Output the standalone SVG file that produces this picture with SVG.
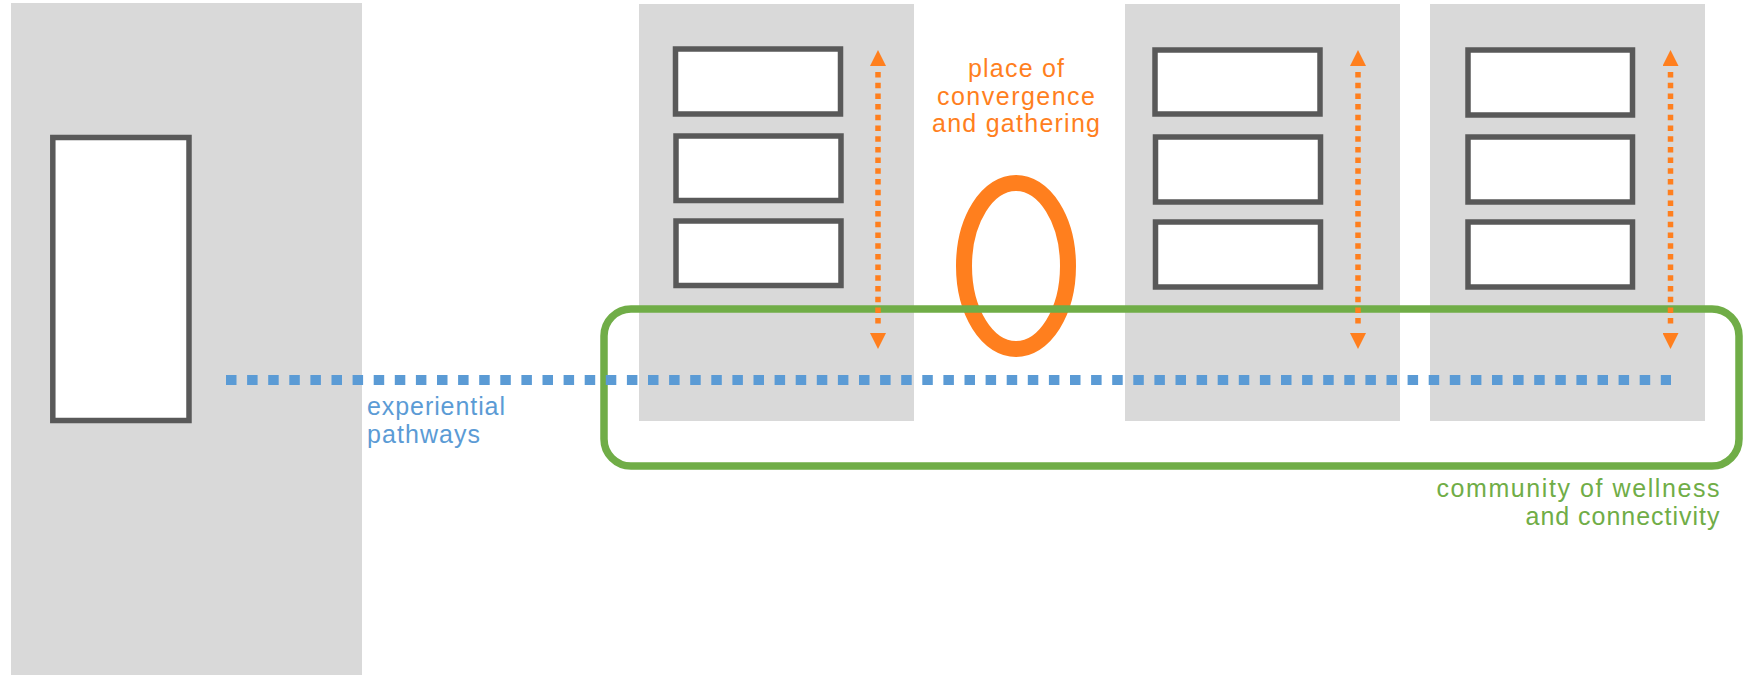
<svg xmlns="http://www.w3.org/2000/svg" width="1752" height="675" viewBox="0 0 1752 675">
  <style>
    .panel { fill: #D9D9D9; stroke: none; }
    .box { fill: #FFFFFF; stroke: #595959; stroke-width: 5.5; }
    .lbl { font-family: "Liberation Sans", Arial, Helvetica, sans-serif; font-size: 25px; }
    .orange-t { fill: #FF7F1E; }
    .blue-t { fill: #5B9BD5; }
    .green-t { fill: #70AD47; }
    .varrow { stroke: #FF7F1E; stroke-width: 5.5; stroke-dasharray: 5.5 5.2; fill: none; marker-start: url(#ah); marker-end: url(#ah); }
    .path-blue { stroke: #5B9BD5; stroke-width: 10; stroke-dasharray: 10.5 10.6; fill: none; }
  </style>
  <defs>
    <marker id="ah" markerUnits="userSpaceOnUse" viewBox="0 0 22 16" markerWidth="22" markerHeight="16" refX="0" refY="8" orient="auto-start-reverse">
      <path d="M6,0 L22,8 L6,16 Z" fill="#FF7F1E"/>
    </marker>
  </defs>

  <rect width="1752" height="675" fill="#FFFFFF"/>

  <g id="building-left">
    <rect class="panel" x="11" y="3" width="351" height="672"/>
    <rect class="box" x="52.8" y="137.5" width="136.2" height="283"/>
  </g>

  <g id="building-2">
    <rect class="panel" x="639" y="4" width="275" height="417"/>
    <rect class="box" x="675.5" y="49" width="165" height="65"/>
    <rect class="box" x="676" y="136" width="165" height="64.5"/>
    <rect class="box" x="676" y="221" width="165" height="64.5"/>
  </g>

  <g id="building-3">
    <rect class="panel" x="1125" y="4" width="275" height="417"/>
    <rect class="box" x="1155" y="50" width="165" height="64"/>
    <rect class="box" x="1155.5" y="137" width="165" height="65"/>
    <rect class="box" x="1155.5" y="222" width="165" height="65"/>
  </g>

  <g id="building-4">
    <rect class="panel" x="1430" y="4" width="275" height="417"/>
    <rect class="box" x="1468" y="50" width="164.5" height="65"/>
    <rect class="box" x="1468" y="137" width="164.5" height="65"/>
    <rect class="box" x="1468" y="222" width="164.5" height="65"/>
  </g>

  <g id="gathering-place">
    <ellipse cx="1016" cy="266" rx="52" ry="83" fill="none" stroke="#FF7F1E" stroke-width="16"/>
    <text class="lbl orange-t" text-anchor="middle" x="1016" y="77" textLength="96" lengthAdjust="spacing">place of</text>
    <text class="lbl orange-t" text-anchor="middle" x="1016" y="105" textLength="158" lengthAdjust="spacing">convergence</text>
    <text class="lbl orange-t" text-anchor="middle" x="1016" y="132" textLength="168" lengthAdjust="spacing">and gathering</text>
  </g>

  <g id="community">
    <rect x="604" y="309" width="1135" height="157" rx="27" ry="27" fill="none" stroke="#70AD47" stroke-width="7.5"/>
    <text class="lbl green-t" text-anchor="end" x="1719.5" y="497" textLength="283" lengthAdjust="spacing">community of wellness</text>
    <text class="lbl green-t" text-anchor="end" x="1719.5" y="525" textLength="194" lengthAdjust="spacing">and connectivity</text>
  </g>

  <g id="connectors">
    <line class="varrow" x1="878" y1="72" x2="878" y2="327"/>
    <line class="varrow" x1="1358" y1="72" x2="1358" y2="327"/>
    <line class="varrow" x1="1670.5" y1="72" x2="1670.5" y2="327"/>
    <line class="path-blue" x1="226" y1="380" x2="1671" y2="380"/>
  </g>

  <g id="pathways-label">
    <text class="lbl blue-t" x="367" y="415" textLength="138" lengthAdjust="spacing">experiential</text>
    <text class="lbl blue-t" x="367" y="443" textLength="113" lengthAdjust="spacing">pathways</text>
  </g>
</svg>
